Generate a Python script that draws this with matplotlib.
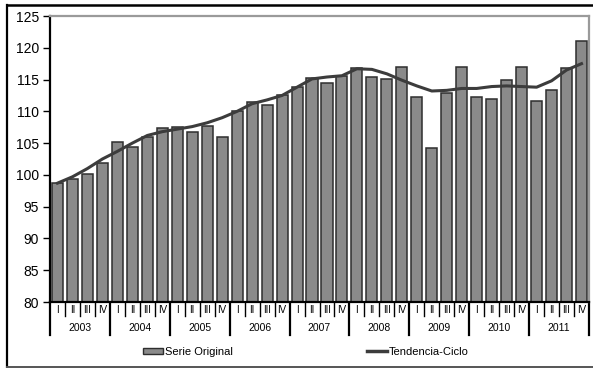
import matplotlib
matplotlib.use("Agg")
import matplotlib.pyplot as plt
from matplotlib.lines import Line2D
from matplotlib.patches import Patch
import matplotlib.transforms as mtransforms

plt.rcParams['font.family'] = ['Liberation Sans', 'DejaVu Sans']

years = ['2003', '2004', '2005', '2006', '2007', '2008', '2009', '2010', '2011']
quarters = ['I', 'II', 'III', 'IV']

serie_original = [
    98.7, 99.3, 100.2, 101.9,
    105.2, 104.4, 105.9, 107.4,
    107.6, 106.8, 107.7, 105.9,
    110.0, 111.4, 111.0, 112.6,
    113.9, 115.2, 114.5, 115.6,
    116.8, 115.4, 115.1, 117.0,
    112.2, 104.3, 112.9, 117.0,
    112.3, 112.0, 114.9, 117.0,
    111.7, 113.4, 116.8, 121.0,
]

tendencia_ciclo = [
    98.7, 99.7, 101.0, 102.5,
    103.7, 105.0, 106.2, 106.8,
    107.2, 107.6, 108.2, 109.0,
    110.0, 111.2, 111.8, 112.5,
    113.8, 115.1, 115.4, 115.6,
    116.7, 116.6, 115.9, 114.9,
    114.0, 113.2, 113.3, 113.6,
    113.6, 113.9, 114.0, 113.9,
    113.8, 114.8, 116.5, 117.5,
]

W, H = 593, 368
fig = plt.figure(figsize=(W / 100, H / 100), dpi=100)

# plot area in pixel terms
left_px, right_px, top_px, bottom_px = 50, 589, 16, 302
ax = fig.add_axes([left_px / W, 1 - bottom_px / H,
                   (right_px - left_px) / W, (bottom_px - top_px) / H])

n = len(serie_original)
x = list(range(n))
ax.bar(x, serie_original, width=0.74, color='#8a8a8a',
       edgecolor='#2e2e2e', linewidth=1.1, zorder=2)
ax.plot(x, tendencia_ciclo, color='#3c3c3c', linewidth=2.2, zorder=3)

ax.set_xlim(-0.5, n - 0.5)
ax.set_ylim(80, 125)
ax.set_yticks(range(80, 126, 5))
ax.tick_params(axis='y', direction='out', length=5, width=1, colors='black',
               labelsize=10, pad=3)
ax.set_xticks([])

for side in ('left', 'bottom'):
    ax.spines[side].set_color('black')
    ax.spines[side].set_linewidth(1.6)
for side in ('top', 'right'):
    ax.spines[side].set_color('#9a9a9a')
    ax.spines[side].set_linewidth(1.6)

# two-level category axis: quarters and years
trans = mtransforms.blended_transform_factory(ax.transData, ax.transAxes)
ax_h = bottom_px - top_px
q_len = -14 / ax_h
y_len = -33 / ax_h
for i in range(n + 1):
    xb = i - 0.5
    if i % 4 == 0:
        ax.plot([xb, xb], [0, y_len], color='black', lw=1.6,
                transform=trans, clip_on=False)
    else:
        ax.plot([xb, xb], [0, q_len], color='black', lw=1.0,
                transform=trans, clip_on=False)
for i in range(n):
    ax.text(i, -8 / ax_h, quarters[i % 4], transform=trans,
            ha='center', va='center', fontsize=7)
for k, yr in enumerate(years):
    ax.text(4 * k + 1.5, -26 / ax_h, yr, transform=trans,
            ha='center', va='center', fontsize=7.5)

# outer frame
fig.add_artist(Line2D([7 / W, 7 / W], [1 - 5 / H, 1 - 366.5 / H],
                      color='black', lw=1.6, transform=fig.transFigure))
fig.add_artist(Line2D([7 / W, 1.0], [1 - 5 / H, 1 - 5 / H],
                      color='black', lw=1.8, transform=fig.transFigure))
fig.add_artist(Line2D([7 / W, 1.0], [1 - 366.5 / H, 1 - 366.5 / H],
                      color='#555555', lw=1.4, transform=fig.transFigure))

handles = [Patch(facecolor='#8a8a8a', edgecolor='#2e2e2e', linewidth=1.0),
           Line2D([0], [0], color='#3c3c3c', lw=2.5)]
fig.legend(handles, ['Serie Original', 'Tendencia-Ciclo'], loc='center',
           bbox_to_anchor=(306 / W, 1 - 352 / H), ncol=2, frameon=False,
           fontsize=8, handlelength=1.8, handleheight=0.5,
           handletextpad=0.2, columnspacing=12.0, borderpad=0)

fig.savefig('out.png', dpi=100)
